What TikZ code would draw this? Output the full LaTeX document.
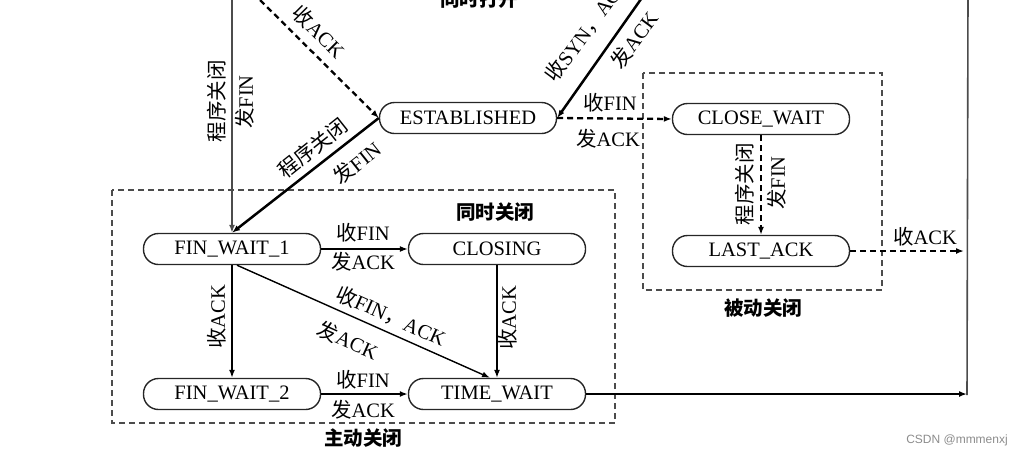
\documentclass[tikz,border=0pt]{standalone}
\usepackage{fontspec}
\setmainfont{Liberation Serif}
\newfontfamily\cjk{Noto Sans CJK SC}
\newfontfamily\wmfont{Liberation Sans}
\usetikzlibrary{arrows.meta}
\newcommand{\zh}[1]{{\cjk #1}}
\begin{document}
\begin{tikzpicture}[x=1pt,y=-1pt,
  font=\fontsize{20.5}{24}\selectfont,
  state/.style={draw, line width=1.4pt, black!85, text=black, rounded corners=15pt, minimum width=177pt, minimum height=31pt, inner sep=0pt},
  lbl/.style={inner sep=0pt},
  grp/.style={inner sep=0pt, font=\fontsize{19.5}{22}\selectfont\cjk\bfseries},
  tip/.style={-{Latex[length=8pt,width=6pt]}},
  thickarr/.style={tip, line width=2.5pt},
  thinarr/.style={tip, line width=1.4pt},
  thinline/.style={line width=1.6pt, black!70},
  dasharr/.style={tip, line width=2.3pt, dash pattern=on 6pt off 4pt},
  boxdash/.style={line width=1.4pt, black!70, dash pattern=on 6pt off 4pt}
]
\useasboundingbox (0,0) rectangle (1024,456);
\clip (0,0) rectangle (1024,456);

% groups
\draw[boxdash] (112,190) rectangle (615,423);
\draw[boxdash] (643,73) rectangle (882,290);

% states
\node[state] (est) at (468,118) {ESTABLISHED};
\node[state] (cw)  at (761,119) {CLOSE\_WAIT};
\node[state] (la)  at (761,251) {LAST\_ACK};
\node[state] (fw1) at (232,249) {FIN\_WAIT\_1};
\node[state] (cl)  at (497,249) {CLOSING};
\node[state] (fw2) at (232,394) {FIN\_WAIT\_2};
\node[state] (tw)  at (497,394) {TIME\_WAIT};

% free ends
\coordinate (tl)  at (232,-10);
\coordinate (tla) at (253,-7);
\coordinate (tr)  at (646,-8);
\coordinate (ra)  at (964,251);
\coordinate (br)  at (967,394);
\coordinate (rt)  at (968,-10);

% connectors
\draw[thinline, tip] (tl) -- (fw1.north);
\draw[dasharr] (tla) -- (est.west);
\draw[thickarr] (tr) -- (est.east);
\draw[thickarr] (est.west) -- (fw1.north);
\draw[dasharr] (est.east) -- (cw.west);
\draw[dasharr] (cw.south) -- (la.north);
\draw[dasharr] (la.east) -- (ra);
\draw[thinarr] (fw1.east) -- (cl.west);
\draw[thickarr] (fw1.south) -- (fw2.north);
\draw[thinarr] ([xshift=5pt]fw1.south) -- ([xshift=-7pt]tw.north);
\draw[thinarr] (cl.south) -- (tw.north);
\draw[thickarr] (fw2.east) -- (tw.west);
\draw[thickarr] (tw.east) -- (br);
\draw[thinline] ([yshift=-1pt]br) -- (rt);

% connector labels
\node[lbl, rotate=90] (l1a) at (217,101) {\zh{程序关闭}};
\node[lbl, rotate=90] (l1b) at (245,102) {\zh{发}FIN};
\node[lbl, rotate=-45] (l2) at (319,32) {\zh{收}ACK};
\node[lbl, rotate=38.5] (l3a) at (313,148) {\zh{程序关闭}};
\node[lbl, rotate=38.5] (l3b) at (357,163) {\zh{发}FIN};
\node[lbl, rotate=53.5] (l4a) at (587,29) {\zh{收}SYN\zh{，}ACK};
\node[lbl, rotate=53.5] (l4b) at (634,40) {\zh{发}ACK};
\node[lbl] (l5a) at (610,103) {\zh{收}FIN};
\node[lbl] (l5b) at (608,139) {\zh{发}ACK};
\node[lbl, rotate=90] (l6a) at (745,184) {\zh{程序关闭}};
\node[lbl, rotate=90] (l6b) at (777,183) {\zh{发}FIN};
\node[lbl] (l7) at (925,237) {\zh{收}ACK};
\node[lbl] (l8a) at (363,233) {\zh{收}FIN};
\node[lbl] (l8b) at (363,262) {\zh{发}ACK};
\node[lbl, rotate=90] (l9) at (217,317) {\zh{收}ACK};
\node[lbl, rotate=90] (l10) at (508,318) {\zh{收}ACK};
\node[lbl, rotate=-24] (l11a) at (391,316) {\zh{收}FIN\zh{，}ACK};
\node[lbl, rotate=-24] (l11b) at (348,340) {\zh{发}ACK};
\node[lbl] (l12a) at (363,380) {\zh{收}FIN};
\node[lbl] (l12b) at (363,410) {\zh{发}ACK};

% group labels
\node[grp] (g1) at (495,212) {同时关闭};
\node[grp] (g2) at (363,438) {主动关闭};
\node[grp] (g3) at (763,308) {被动关闭};
\node[grp] (g4) at (479,-1) {同时打开};

% watermark
\node[lbl, text=black!45, font=\wmfont\fontsize{12}{14}\selectfont] (wm) at (957,440) {CSDN @mmmenxj};
\end{tikzpicture}
\end{document}
